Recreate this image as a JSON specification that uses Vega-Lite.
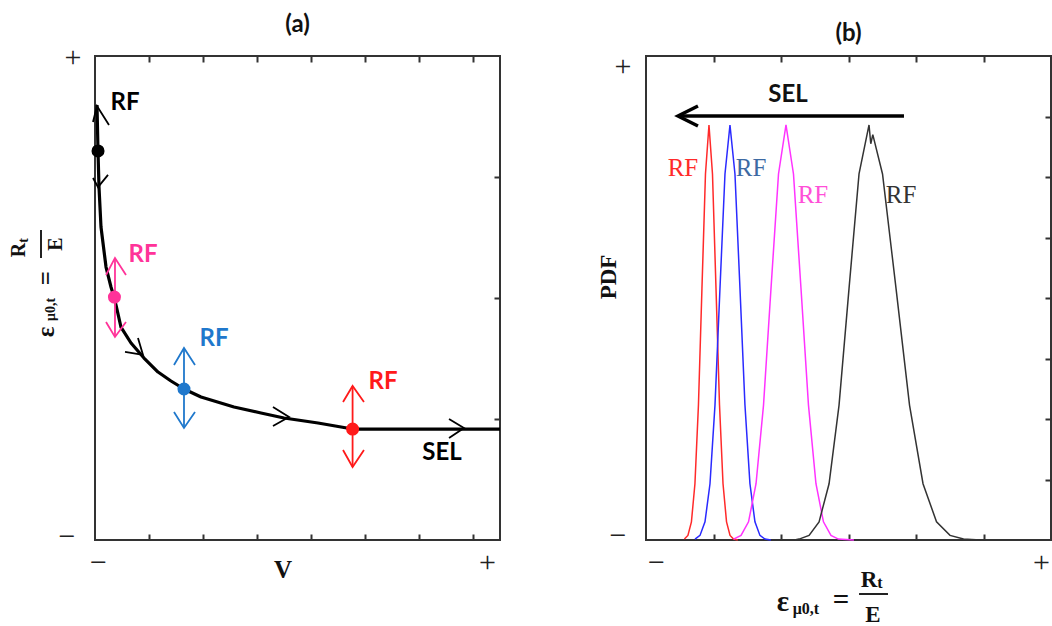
{
  "$schema": "https://vega.github.io/schema/vega-lite/v6.json",
  "autosize": {"type": "pad"},
  "padding": {"left": 8, "top": 12, "right": 1, "bottom": 0},
  "background": "white",
  "bounds": "flush",
  "spacing": 146,
  "config": {
    "view": {"stroke": "#333333", "strokeWidth": 2},
    "axis": {"grid": false},
    "title": {"font": "Lato", "fontSize": 24, "fontWeight": "bold", "color": "#111111", "frame": "group", "anchor": "middle", "baseline": "alphabetic", "offset": 5}
  },
  "datasets": {
    "curveA": [
      {"x": 0.037, "y": 3.595}, {"x": 0.056, "y": 3.207}, {"x": 0.074, "y": 2.917}, {"x": 0.111, "y": 2.587},
      {"x": 0.204, "y": 2.256}, {"x": 0.296, "y": 2.091}, {"x": 0.352, "y": 2.008}, {"x": 0.389, "y": 1.942},
      {"x": 0.481, "y": 1.760}, {"x": 0.667, "y": 1.628}, {"x": 0.907, "y": 1.504}, {"x": 1.167, "y": 1.388},
      {"x": 1.407, "y": 1.314}, {"x": 1.648, "y": 1.248}, {"x": 1.963, "y": 1.182}, {"x": 2.574, "y": 1.099},
      {"x": 3.074, "y": 1.050}, {"x": 3.5, "y": 1.008}, {"x": 4.130, "y": 0.967}, {"x": 4.77, "y": 0.917},
      {"x": 7.5, "y": 0.917}
    ],
    "arrowsA": [
      {"g": "k1", "o": 1, "s": "a-black", "x": -0.037, "y": 3.455},
      {"g": "k1", "o": 2, "s": "a-black", "x": 0.037, "y": 3.587},
      {"g": "k1", "o": 3, "s": "a-black", "x": 0.259, "y": 3.430},
      {"g": "k2", "o": 1, "s": "a-black", "x": -0.037, "y": 2.992},
      {"g": "k2", "o": 2, "s": "a-black", "x": 0.056, "y": 2.917},
      {"g": "k2", "o": 3, "s": "a-black", "x": 0.241, "y": 3.017},
      {"g": "c1", "o": 1, "s": "a-black", "x": 0.556, "y": 1.554},
      {"g": "c1", "o": 2, "s": "a-black", "x": 0.889, "y": 1.529},
      {"g": "c1", "o": 3, "s": "a-black", "x": 0.796, "y": 1.669},
      {"g": "c2", "o": 1, "s": "a-black", "x": 3.296, "y": 1.099},
      {"g": "c2", "o": 2, "s": "a-black", "x": 3.593, "y": 1.017},
      {"g": "c2", "o": 3, "s": "a-black", "x": 3.296, "y": 0.942},
      {"g": "c3", "o": 1, "s": "a-black", "x": 6.556, "y": 1.0},
      {"g": "c3", "o": 2, "s": "a-black", "x": 6.833, "y": 0.926},
      {"g": "c3", "o": 3, "s": "a-black", "x": 6.556, "y": 0.843},
      {"g": "p0", "o": 1, "s": "a-pink", "x": 0.370, "y": 2.331},
      {"g": "p0", "o": 2, "s": "a-pink", "x": 0.370, "y": 1.678},
      {"g": "p1", "o": 1, "s": "a-pink", "x": 0.204, "y": 2.190},
      {"g": "p1", "o": 2, "s": "a-pink", "x": 0.370, "y": 2.331},
      {"g": "p1", "o": 3, "s": "a-pink", "x": 0.574, "y": 2.190},
      {"g": "p2", "o": 1, "s": "a-pink", "x": 0.204, "y": 1.802},
      {"g": "p2", "o": 2, "s": "a-pink", "x": 0.370, "y": 1.678},
      {"g": "p2", "o": 3, "s": "a-pink", "x": 0.574, "y": 1.802},
      {"g": "b0", "o": 1, "s": "a-blue", "x": 1.648, "y": 1.587},
      {"g": "b0", "o": 2, "s": "a-blue", "x": 1.648, "y": 0.926},
      {"g": "b1", "o": 1, "s": "a-blue", "x": 1.463, "y": 1.446},
      {"g": "b1", "o": 2, "s": "a-blue", "x": 1.648, "y": 1.587},
      {"g": "b1", "o": 3, "s": "a-blue", "x": 1.852, "y": 1.446},
      {"g": "b2", "o": 1, "s": "a-blue", "x": 1.463, "y": 1.058},
      {"g": "b2", "o": 2, "s": "a-blue", "x": 1.648, "y": 0.926},
      {"g": "b2", "o": 3, "s": "a-blue", "x": 1.852, "y": 1.058},
      {"g": "r0", "o": 1, "s": "a-red", "x": 4.77, "y": 1.273},
      {"g": "r0", "o": 2, "s": "a-red", "x": 4.77, "y": 0.603},
      {"g": "r1", "o": 1, "s": "a-red", "x": 4.593, "y": 1.140},
      {"g": "r1", "o": 2, "s": "a-red", "x": 4.77, "y": 1.273},
      {"g": "r1", "o": 3, "s": "a-red", "x": 4.981, "y": 1.140},
      {"g": "r2", "o": 1, "s": "a-red", "x": 4.593, "y": 0.744},
      {"g": "r2", "o": 2, "s": "a-red", "x": 4.77, "y": 0.603},
      {"g": "r2", "o": 3, "s": "a-red", "x": 4.981, "y": 0.744}
    ],
    "dotsA": [
      {"s": "a-black", "x": 0.056, "y": 3.215},
      {"s": "a-pink", "x": 0.360, "y": 2.008},
      {"s": "a-blue", "x": 1.648, "y": 1.248},
      {"s": "a-red", "x": 4.77, "y": 0.917}
    ],
    "labelsA": [
      {"t": "RF", "s": "a-black", "x": 0.556, "y": 3.612},
      {"t": "RF", "s": "a-pink", "x": 0.889, "y": 2.355},
      {"t": "RF", "s": "a-blue", "x": 2.204, "y": 1.661},
      {"t": "RF", "s": "a-red", "x": 5.333, "y": 1.306},
      {"t": "SEL", "s": "a-black", "x": 6.426, "y": 0.719}
    ],
    "vA": [{"t": "V", "x": 3.481, "y": -0.248}],
    "mathA": [
      {"t": "R", "x": -1.407, "y": 2.397},
      {"t": "E", "x": -0.722, "y": 2.446}
    ],
    "epsA": [
      {"t": "ε", "x": -0.907, "y": 1.719},
      {"t": "=", "x": -0.907, "y": 2.165}
    ],
    "subA": [
      {"t": "t", "x": -1.306, "y": 2.475},
      {"t": "μ0,t", "x": -0.815, "y": 1.905}
    ],
    "barA": [{"x": -1.0, "y": 2.331, "y2": 2.562}],
    "curvesB": [
      {"s": "b-red", "x": 0.569, "y": 0.015}, {"s": "b-red", "x": 0.621, "y": 0.076}, {"s": "b-red", "x": 0.673, "y": 0.30},
      {"s": "b-red", "x": 0.725, "y": 0.93}, {"s": "b-red", "x": 0.777, "y": 2.23}, {"s": "b-red", "x": 0.829, "y": 4.16},
      {"s": "b-red", "x": 0.881, "y": 6.05}, {"s": "b-red", "x": 0.933, "y": 6.86}, {"s": "b-red", "x": 0.985, "y": 6.05},
      {"s": "b-red", "x": 1.037, "y": 4.16}, {"s": "b-red", "x": 1.089, "y": 2.23}, {"s": "b-red", "x": 1.141, "y": 0.93},
      {"s": "b-red", "x": 1.193, "y": 0.30}, {"s": "b-red", "x": 1.245, "y": 0.076}, {"s": "b-red", "x": 1.297, "y": 0.015},
      {"s": "b-red", "x": 1.36, "y": 0},
      {"s": "b-blue", "x": 0.726, "y": 0.015}, {"s": "b-blue", "x": 0.800, "y": 0.076}, {"s": "b-blue", "x": 0.874, "y": 0.30},
      {"s": "b-blue", "x": 0.948, "y": 0.93}, {"s": "b-blue", "x": 1.022, "y": 2.23}, {"s": "b-blue", "x": 1.096, "y": 4.16},
      {"s": "b-blue", "x": 1.170, "y": 6.05}, {"s": "b-blue", "x": 1.244, "y": 6.86}, {"s": "b-blue", "x": 1.318, "y": 6.05},
      {"s": "b-blue", "x": 1.392, "y": 4.16}, {"s": "b-blue", "x": 1.466, "y": 2.23}, {"s": "b-blue", "x": 1.540, "y": 0.93},
      {"s": "b-blue", "x": 1.614, "y": 0.30}, {"s": "b-blue", "x": 1.688, "y": 0.076}, {"s": "b-blue", "x": 1.762, "y": 0.015},
      {"s": "b-blue", "x": 1.85, "y": 0},
      {"s": "b-magenta", "x": 1.297, "y": 0.015}, {"s": "b-magenta", "x": 1.408, "y": 0.076}, {"s": "b-magenta", "x": 1.519, "y": 0.30},
      {"s": "b-magenta", "x": 1.630, "y": 0.93}, {"s": "b-magenta", "x": 1.741, "y": 2.23}, {"s": "b-magenta", "x": 1.852, "y": 4.16},
      {"s": "b-magenta", "x": 1.963, "y": 6.05}, {"s": "b-magenta", "x": 2.074, "y": 6.86}, {"s": "b-magenta", "x": 2.185, "y": 6.05},
      {"s": "b-magenta", "x": 2.296, "y": 4.16}, {"s": "b-magenta", "x": 2.407, "y": 2.23}, {"s": "b-magenta", "x": 2.518, "y": 0.93},
      {"s": "b-magenta", "x": 2.629, "y": 0.30}, {"s": "b-magenta", "x": 2.740, "y": 0.076}, {"s": "b-magenta", "x": 2.851, "y": 0.015},
      {"s": "b-magenta", "x": 3.08, "y": 0},
      {"s": "b-black", "x": 2.20, "y": 0}, {"s": "b-black", "x": 2.268, "y": 0.015}, {"s": "b-black", "x": 2.416, "y": 0.076},
      {"s": "b-black", "x": 2.564, "y": 0.30}, {"s": "b-black", "x": 2.712, "y": 0.93}, {"s": "b-black", "x": 2.860, "y": 2.23},
      {"s": "b-black", "x": 3.008, "y": 4.16}, {"s": "b-black", "x": 3.156, "y": 6.05}, {"s": "b-black", "x": 3.304, "y": 6.86},
      {"s": "b-black", "x": 3.33, "y": 6.55}, {"s": "b-black", "x": 3.36, "y": 6.7}, {"s": "b-black", "x": 3.504, "y": 6.05},
      {"s": "b-black", "x": 3.704, "y": 4.16}, {"s": "b-black", "x": 3.904, "y": 2.23}, {"s": "b-black", "x": 4.104, "y": 0.93},
      {"s": "b-black", "x": 4.304, "y": 0.30}, {"s": "b-black", "x": 4.504, "y": 0.076}, {"s": "b-black", "x": 4.704, "y": 0.015},
      {"s": "b-black", "x": 4.95, "y": 0}
    ],
    "arrowB": [
      {"g": "s0", "o": 1, "x": 3.822, "y": 7.008},
      {"g": "s0", "o": 2, "x": 0.474, "y": 7.008},
      {"g": "s1", "o": 1, "x": 0.770, "y": 7.174},
      {"g": "s1", "o": 2, "x": 0.474, "y": 7.008},
      {"g": "s1", "o": 3, "x": 0.770, "y": 6.843}
    ],
    "labelsB": [
      {"t": "RF", "s": "b-red", "x": 0.548, "y": 6.149},
      {"t": "RF", "s": "b-bluetext", "x": 1.556, "y": 6.149},
      {"t": "RF", "s": "b-magtext", "x": 2.474, "y": 5.702},
      {"t": "RF", "s": "b-black", "x": 3.778, "y": 5.702}
    ],
    "selB": [{"t": "SEL", "x": 2.104, "y": 7.355}],
    "pdfB": [{"t": "PDF", "x": -0.548, "y": 4.347}],
    "mathB": [
      {"t": "R", "x": 3.304, "y": -0.661},
      {"t": "E", "x": 3.363, "y": -1.24}
    ],
    "epsB": [
      {"t": "ε", "x": 2.03, "y": -1.025},
      {"t": "=", "x": 2.889, "y": -0.99}
    ],
    "subB": [
      {"t": "μ0,t", "x": 2.37, "y": -1.14},
      {"t": "t", "x": 3.467, "y": -0.711}
    ],
    "barB": [{"x": 3.156, "x2": 3.585, "y": -0.893}]
  },
  "hconcat": [
    {
      "width": 405,
      "height": 484,
      "title": {"text": "(a)"},
      "resolve": {"axis": {"x": "independent", "y": "independent"}},
      "layer": [
        {
          "data": {"name": "curveA"},
          "mark": {"type": "line", "color": "#000000", "strokeWidth": 3.2, "strokeJoin": "round"},
          "encoding": {
            "x": {"field": "x", "type": "quantitative", "scale": {"domain": [0, 7.5], "nice": false, "zero": false},
              "axis": {"orient": "bottom", "values": [0.056, 1, 2, 3, 4, 5, 6, 7, 7.26], "labelExpr": "datum.value < 0.5 ? '−' : datum.value > 7.1 ? '+' : ''",
                "tickSize": -6, "tickWidth": 2, "tickColor": "#333333", "tickOpacity": {"condition": {"test": "datum.value < 0.5 || datum.value > 7.1", "value": 0}, "value": 1},
                "domain": false, "grid": false, "title": null, "labelFont": "Liberation Serif", "labelFontSize": 30, "labelColor": "#222222",
                "labelPadding": 28, "labelBaseline": "middle", "labelFlush": false, "labelOverlap": false, "labelBound": false}},
            "y": {"field": "y", "type": "quantitative", "scale": {"domain": [0, 4], "nice": false, "zero": false},
              "axis": {"orient": "left", "values": [0.025, 3.99], "labelExpr": "datum.value < 1 ? '−' : '+'", "ticks": false,
                "domain": false, "grid": false, "title": null, "labelFont": "Liberation Serif", "labelFontSize": 30, "labelColor": "#222222",
                "labelPadding": {"condition": {"test": "datum.value < 1", "value": 20}, "value": 14}, "labelBaseline": "middle", "labelFlush": false, "labelOverlap": false, "labelBound": false}}
          }
        },
        {
          "data": {"name": "arrowsA"},
          "mark": {"type": "line", "strokeWidth": 1.8},
          "encoding": {
            "x": {"field": "x", "type": "quantitative", "scale": {"domain": [0, 7.5], "nice": false, "zero": false},
              "axis": {"orient": "top", "values": [1, 2, 3, 4, 5, 6, 7], "labels": false, "tickSize": -6, "tickWidth": 2, "tickColor": "#333333", "domain": false, "grid": false, "title": null}},
            "y": {"field": "y", "type": "quantitative", "scale": {"domain": [0, 4], "nice": false, "zero": false},
              "axis": {"orient": "right", "values": [1, 2, 3], "labels": false, "tickSize": -6, "tickWidth": 2, "tickColor": "#333333", "domain": false, "grid": false, "title": null}},
            "detail": {"field": "g"},
            "order": {"field": "o", "type": "quantitative"},
            "color": {"field": "s", "type": "nominal", "legend": null,
              "scale": {"domain": ["a-black", "a-pink", "a-blue", "a-red", "b-red", "b-blue", "b-magenta", "b-black", "b-bluetext", "b-magtext"],
                "range": ["#000000", "#ff3399", "#1f78cc", "#ff1a1a", "#ff2a2a", "#2a2aff", "#ff33ff", "#333333", "#3d6aa3", "#ff4fd8"]}}
          }
        },
        {
          "data": {"name": "dotsA"},
          "mark": {"type": "circle", "size": 170, "opacity": 1},
          "encoding": {
            "x": {"field": "x", "type": "quantitative", "scale": {"domain": [0, 7.5], "nice": false, "zero": false}, "axis": null},
            "y": {"field": "y", "type": "quantitative", "scale": {"domain": [0, 4], "nice": false, "zero": false}, "axis": null},
            "color": {"field": "s", "type": "nominal", "legend": null,
              "scale": {"domain": ["a-black", "a-pink", "a-blue", "a-red", "b-red", "b-blue", "b-magenta", "b-black", "b-bluetext", "b-magtext"],
                "range": ["#000000", "#ff3399", "#1f78cc", "#ff1a1a", "#ff2a2a", "#2a2aff", "#ff33ff", "#333333", "#3d6aa3", "#ff4fd8"]}}
          }
        },
        {
          "data": {"name": "labelsA"},
          "mark": {"type": "text", "font": "Lato", "fontWeight": "bold", "fontSize": 24, "align": "center", "baseline": "middle"},
          "encoding": {
            "x": {"field": "x", "type": "quantitative", "scale": {"domain": [0, 7.5], "nice": false, "zero": false}, "axis": null},
            "y": {"field": "y", "type": "quantitative", "scale": {"domain": [0, 4], "nice": false, "zero": false}, "axis": null},
            "text": {"field": "t"},
            "color": {"field": "s", "type": "nominal", "legend": null,
              "scale": {"domain": ["a-black", "a-pink", "a-blue", "a-red", "b-red", "b-blue", "b-magenta", "b-black", "b-bluetext", "b-magtext"],
                "range": ["#000000", "#ff3399", "#1f78cc", "#ff1a1a", "#ff2a2a", "#2a2aff", "#ff33ff", "#333333", "#3d6aa3", "#ff4fd8"]}}
          }
        },
        {
          "data": {"name": "vA"},
          "mark": {"type": "text", "font": "Liberation Serif", "fontWeight": "bold", "fontSize": 25, "align": "center", "baseline": "middle", "color": "#111111"},
          "encoding": {
            "x": {"field": "x", "type": "quantitative", "scale": {"domain": [0, 7.5], "nice": false, "zero": false}, "axis": null},
            "y": {"field": "y", "type": "quantitative", "scale": {"domain": [0, 4], "nice": false, "zero": false}, "axis": null},
            "text": {"field": "t"}
          }
        },
        {
          "data": {"name": "mathA"},
          "mark": {"type": "text", "font": "Liberation Serif", "fontWeight": "bold", "fontSize": 20, "align": "center", "baseline": "middle", "angle": 270, "color": "#111111"},
          "encoding": {
            "x": {"field": "x", "type": "quantitative", "scale": {"domain": [0, 7.5], "nice": false, "zero": false}, "axis": null},
            "y": {"field": "y", "type": "quantitative", "scale": {"domain": [0, 4], "nice": false, "zero": false}, "axis": null},
            "text": {"field": "t"}
          }
        },
        {
          "data": {"name": "epsA"},
          "mark": {"type": "text", "font": "Liberation Serif", "fontWeight": "bold", "fontSize": 25, "align": "center", "baseline": "middle", "angle": 270, "color": "#111111"},
          "encoding": {
            "x": {"field": "x", "type": "quantitative", "scale": {"domain": [0, 7.5], "nice": false, "zero": false}, "axis": null},
            "y": {"field": "y", "type": "quantitative", "scale": {"domain": [0, 4], "nice": false, "zero": false}, "axis": null},
            "text": {"field": "t"}
          }
        },
        {
          "data": {"name": "subA"},
          "mark": {"type": "text", "font": "Liberation Serif", "fontWeight": "bold", "fontSize": 14, "align": "center", "baseline": "middle", "angle": 270, "color": "#111111"},
          "encoding": {
            "x": {"field": "x", "type": "quantitative", "scale": {"domain": [0, 7.5], "nice": false, "zero": false}, "axis": null},
            "y": {"field": "y", "type": "quantitative", "scale": {"domain": [0, 4], "nice": false, "zero": false}, "axis": null},
            "text": {"field": "t"}
          }
        },
        {
          "data": {"name": "barA"},
          "mark": {"type": "rule", "strokeWidth": 2, "color": "#222222"},
          "encoding": {
            "x": {"field": "x", "type": "quantitative", "scale": {"domain": [0, 7.5], "nice": false, "zero": false}, "axis": null},
            "y": {"field": "y", "type": "quantitative", "scale": {"domain": [0, 4], "nice": false, "zero": false}, "axis": null},
            "y2": {"field": "y2"}
          }
        }
      ]
    },
    {
      "width": 405,
      "height": 484,
      "title": {"text": "(b)"},
      "resolve": {"axis": {"x": "independent", "y": "independent"}},
      "layer": [
        {
          "data": {"name": "curvesB"},
          "mark": {"type": "line", "strokeWidth": 1.5},
          "encoding": {
            "x": {"field": "x", "type": "quantitative", "scale": {"domain": [0, 6], "nice": false, "zero": false},
              "axis": {"orient": "bottom", "values": [0.148, 1, 2, 3, 4, 5, 5.85], "labelExpr": "datum.value < 0.5 ? '−' : datum.value > 5.5 ? '+' : ''",
                "tickSize": -6, "tickWidth": 2, "tickColor": "#333333", "tickOpacity": {"condition": {"test": "datum.value < 0.5 || datum.value > 5.5", "value": 0}, "value": 1},
                "domain": false, "grid": false, "title": null, "labelFont": "Liberation Serif", "labelFontSize": 30, "labelColor": "#222222",
                "labelPadding": 28, "labelBaseline": "middle", "labelFlush": false, "labelOverlap": false, "labelBound": false}},
            "y": {"field": "y", "type": "quantitative", "scale": {"domain": [0, 8], "nice": false, "zero": false},
              "axis": {"orient": "left", "values": [0.08, 7.83], "labelExpr": "datum.value < 1 ? '−' : '+'", "ticks": false,
                "domain": false, "grid": false, "title": null, "labelFont": "Liberation Serif", "labelFontSize": 30, "labelColor": "#222222",
                "labelPadding": {"condition": {"test": "datum.value < 1", "value": 20}, "value": 15}, "labelBaseline": "middle", "labelFlush": false, "labelOverlap": false, "labelBound": false}},
            "color": {"field": "s", "type": "nominal", "legend": null,
              "scale": {"domain": ["a-black", "a-pink", "a-blue", "a-red", "b-red", "b-blue", "b-magenta", "b-black", "b-bluetext", "b-magtext"],
                "range": ["#000000", "#ff3399", "#1f78cc", "#ff1a1a", "#ff2a2a", "#2a2aff", "#ff33ff", "#333333", "#3d6aa3", "#ff4fd8"]}}
          }
        },
        {
          "data": {"name": "arrowB"},
          "mark": {"type": "line", "strokeWidth": 3.5, "color": "#000000"},
          "encoding": {
            "x": {"field": "x", "type": "quantitative", "scale": {"domain": [0, 6], "nice": false, "zero": false},
              "axis": {"orient": "top", "values": [1, 2, 3, 4, 5], "labels": false, "tickSize": -6, "tickWidth": 2, "tickColor": "#333333", "domain": false, "grid": false, "title": null}},
            "y": {"field": "y", "type": "quantitative", "scale": {"domain": [0, 8], "nice": false, "zero": false},
              "axis": {"orient": "right", "values": [1, 2, 3, 4, 5, 6, 7], "labels": false, "tickSize": -6, "tickWidth": 2, "tickColor": "#333333", "domain": false, "grid": false, "title": null}},
            "detail": {"field": "g"},
            "order": {"field": "o", "type": "quantitative"}
          }
        },
        {
          "data": {"name": "labelsB"},
          "mark": {"type": "text", "font": "Liberation Serif", "fontSize": 25, "align": "center", "baseline": "middle"},
          "encoding": {
            "x": {"field": "x", "type": "quantitative", "scale": {"domain": [0, 6], "nice": false, "zero": false}, "axis": null},
            "y": {"field": "y", "type": "quantitative", "scale": {"domain": [0, 8], "nice": false, "zero": false}, "axis": null},
            "text": {"field": "t"},
            "color": {"field": "s", "type": "nominal", "legend": null,
              "scale": {"domain": ["a-black", "a-pink", "a-blue", "a-red", "b-red", "b-blue", "b-magenta", "b-black", "b-bluetext", "b-magtext"],
                "range": ["#000000", "#ff3399", "#1f78cc", "#ff1a1a", "#ff2a2a", "#2a2aff", "#ff33ff", "#333333", "#3d6aa3", "#ff4fd8"]}}
          }
        },
        {
          "data": {"name": "selB"},
          "mark": {"type": "text", "font": "Lato", "fontWeight": "bold", "fontSize": 24, "align": "center", "baseline": "middle", "color": "#111111"},
          "encoding": {
            "x": {"field": "x", "type": "quantitative", "scale": {"domain": [0, 6], "nice": false, "zero": false}, "axis": null},
            "y": {"field": "y", "type": "quantitative", "scale": {"domain": [0, 8], "nice": false, "zero": false}, "axis": null},
            "text": {"field": "t"}
          }
        },
        {
          "data": {"name": "pdfB"},
          "mark": {"type": "text", "font": "Liberation Serif", "fontWeight": "bold", "fontSize": 23, "align": "center", "baseline": "middle", "angle": 270, "color": "#111111"},
          "encoding": {
            "x": {"field": "x", "type": "quantitative", "scale": {"domain": [0, 6], "nice": false, "zero": false}, "axis": null},
            "y": {"field": "y", "type": "quantitative", "scale": {"domain": [0, 8], "nice": false, "zero": false}, "axis": null},
            "text": {"field": "t"}
          }
        },
        {
          "data": {"name": "mathB"},
          "mark": {"type": "text", "font": "Liberation Serif", "fontWeight": "bold", "fontSize": 23, "align": "center", "baseline": "middle", "color": "#111111"},
          "encoding": {
            "x": {"field": "x", "type": "quantitative", "scale": {"domain": [0, 6], "nice": false, "zero": false}, "axis": null},
            "y": {"field": "y", "type": "quantitative", "scale": {"domain": [0, 8], "nice": false, "zero": false}, "axis": null},
            "text": {"field": "t"}
          }
        },
        {
          "data": {"name": "epsB"},
          "mark": {"type": "text", "font": "Liberation Serif", "fontWeight": "bold", "fontSize": 29, "align": "center", "baseline": "middle", "color": "#111111"},
          "encoding": {
            "x": {"field": "x", "type": "quantitative", "scale": {"domain": [0, 6], "nice": false, "zero": false}, "axis": null},
            "y": {"field": "y", "type": "quantitative", "scale": {"domain": [0, 8], "nice": false, "zero": false}, "axis": null},
            "text": {"field": "t"}
          }
        },
        {
          "data": {"name": "subB"},
          "mark": {"type": "text", "font": "Liberation Serif", "fontWeight": "bold", "fontSize": 16, "align": "center", "baseline": "middle", "color": "#111111"},
          "encoding": {
            "x": {"field": "x", "type": "quantitative", "scale": {"domain": [0, 6], "nice": false, "zero": false}, "axis": null},
            "y": {"field": "y", "type": "quantitative", "scale": {"domain": [0, 8], "nice": false, "zero": false}, "axis": null},
            "text": {"field": "t"}
          }
        },
        {
          "data": {"name": "barB"},
          "mark": {"type": "rule", "strokeWidth": 2, "color": "#222222"},
          "encoding": {
            "x": {"field": "x", "type": "quantitative", "scale": {"domain": [0, 6], "nice": false, "zero": false}, "axis": null},
            "x2": {"field": "x2"},
            "y": {"field": "y", "type": "quantitative", "scale": {"domain": [0, 8], "nice": false, "zero": false}, "axis": null}
          }
        }
      ]
    }
  ]
}
